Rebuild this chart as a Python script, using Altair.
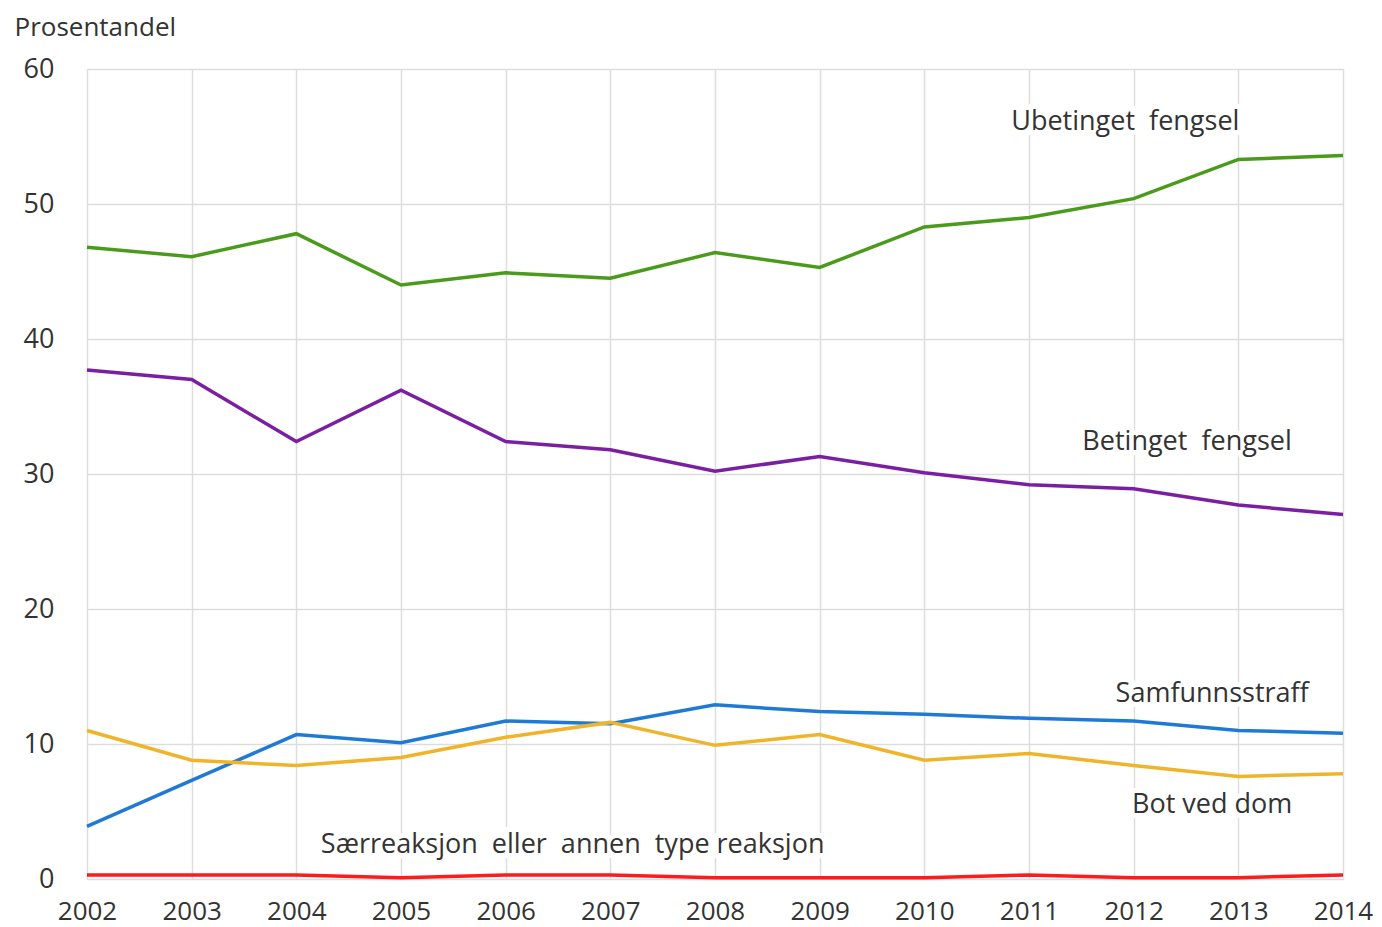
import altair as alt
import pandas as pd

years = list(range(2002, 2015))
ubetinget = [46.8, 46.1, 47.8, 44.0, 44.9, 44.5, 46.4, 45.3, 48.3, 49.0, 50.4, 53.3, 53.6]
betinget = [37.7, 37.0, 32.4, 36.2, 32.4, 31.8, 30.2, 31.3, 30.1, 29.2, 28.9, 27.7, 27.0]
samfunn = [3.9, 7.3, 10.7, 10.1, 11.7, 11.5, 12.9, 12.4, 12.2, 11.9, 11.7, 11.0, 10.8]
bot = [11.0, 8.8, 8.4, 9.0, 10.5, 11.6, 9.9, 10.7, 8.8, 9.3, 8.4, 7.6, 7.8]
saer = [0.3, 0.3, 0.3, 0.1, 0.3, 0.3, 0.1, 0.1, 0.1, 0.3, 0.1, 0.1, 0.3]

series = ["Ubetinget fengsel", "Betinget fengsel", "Samfunnsstraff", "Bot ved dom",
          "Særreaksjon eller annen type reaksjon"]
colors = ["#4a9a1c", "#7b1fa2", "#1f7ad6", "#efb42a", "#ff1b1b"]
values = [ubetinget, betinget, samfunn, bot, saer]

NB = "\u00a0"
label_text = ["Ubetinget" + NB + NB + "fengsel", "Betinget" + NB + NB + "fengsel",
              "Samfunnsstraff", "Bot ved dom",
              "Særreaksjon" + NB + NB + "eller" + NB + NB + "annen" + NB + NB + "type reaksjon"]
label_x = [2011.92, 2012.51, 2012.75, 2012.75, 2006.64]
label_y = [56.1, 32.4, 13.7, 5.5, 2.5]

rows = []
for name, vals in zip(series, values):
    for yr, v in zip(years, vals):
        rows.append({"year": yr, "value": v, "series": name})
df = pd.DataFrame(rows)

labels = pd.DataFrame({"text": label_text, "x": label_x, "y": label_y})

FONT = "Open Sans"
FS = 27

xscale = alt.Scale(domain=[2002, 2014], nice=False, zero=False)
yscale = alt.Scale(domain=[0, 60], nice=False)

lines = alt.Chart(df).mark_line(strokeWidth=3.5, clip=False).encode(
    x=alt.X("year:Q", scale=xscale,
            axis=alt.Axis(values=years, format="d", title=None, ticks=False, domain=False,
                          labelPadding=19, labelFontSize=26, labelFont=FONT,
                          labelColor="#333333", gridColor="#dddddd", gridWidth=1.5,
                          labelFlush=False)),
    y=alt.Y("value:Q", scale=yscale,
            axis=alt.Axis(values=[0, 10, 20, 30, 40, 50, 60], title="Prosentandel",
                          titleAngle=0, titleAlign="left", titleBaseline="alphabetic",
                          titleX=-73, titleY=-34, titleFont=FONT, titleFontSize=26,
                          titleFontWeight="normal", titleColor="#333333",
                          ticks=False, domain=False, labelPadding=33, labelFontSize=FS,
                          labelFont=FONT, labelColor="#333333",
                          gridColor="#dddddd", gridWidth=1.5)),
    color=alt.Color("series:N", scale=alt.Scale(domain=series, range=colors), legend=None),
    order=alt.Order("series:N"),
)

halo = alt.Chart(labels).mark_text(font=FONT, fontSize=FS, stroke="white", strokeWidth=10,
                                   fill="white", baseline="middle").encode(
    x="x:Q", y="y:Q", text="text:N")
txt = alt.Chart(labels).mark_text(font=FONT, fontSize=FS, color="#333333",
                                  baseline="middle").encode(
    x="x:Q", y="y:Q", text="text:N")

chart = alt.layer(halo, lines, txt).properties(
    width=1256, height=810,
    autosize=alt.AutoSizeParams(type="none"),
    padding={"left": 79, "top": 61, "right": 30, "bottom": 50},
).configure_view(stroke=None).configure(background="white")

chart.save("out.html", embed_options={"renderer": "svg", "actions": False})
